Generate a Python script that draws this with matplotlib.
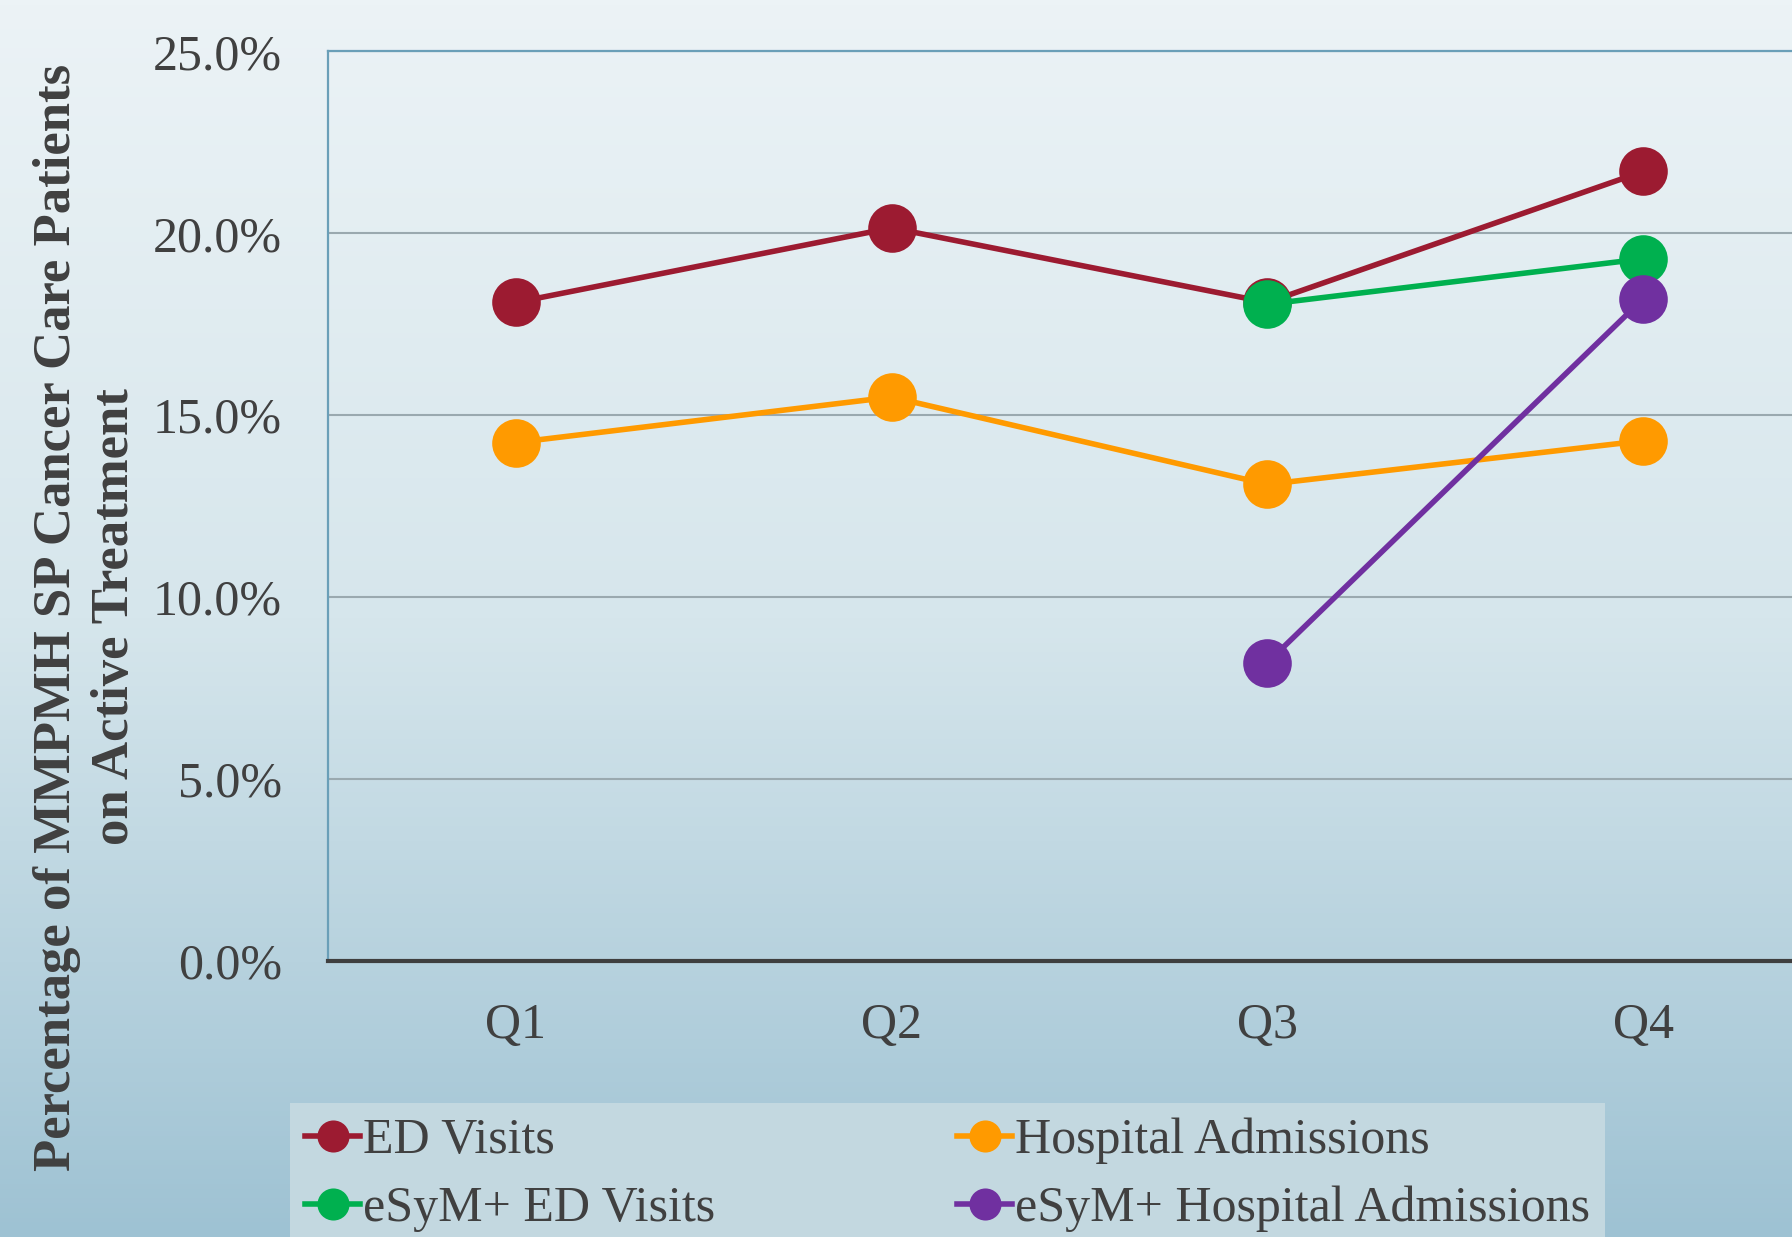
import matplotlib
matplotlib.use("Agg")
import matplotlib.pyplot as plt
import numpy as np
from matplotlib.colors import LinearSegmentedColormap

# ---- data ----
quarters = ["Q1", "Q2", "Q3", "Q4"]
ed_visits = [18.1, 20.15, 18.1, 21.7]
hosp_adm = [14.25, 15.5, 13.1, 14.3]
esym_ed = [np.nan, np.nan, 18.05, 19.3]
esym_hosp = [np.nan, np.nan, 8.2, 18.2]
yticks = [0, 5, 10, 15, 20, 25]
ylabel = "Percentage of MMPMH SP Cancer Care Patients\non Active Treatment"

series = [
    ("ED Visits", ed_visits, "#9C1B31"),
    ("Hospital Admissions", hosp_adm, "#FF9A00"),
    ("eSyM+ ED Visits", esym_ed, "#00B04F"),
    ("eSyM+ Hospital Admissions", esym_hosp, "#7030A0"),
]

FONT = "Liberation Serif"
TXT = "#404040"
W, H = 1792, 1237
fig = plt.figure(figsize=(W / 100, H / 100), dpi=100)

# background gradient
bg = fig.add_axes([0, 0, 1, 1], zorder=-10)
cmap = LinearSegmentedColormap.from_list("bg", ["#ECF3F6", "#D6E6EC", "#9EC2D3"])
grad = np.linspace(0, 1, 256).reshape(-1, 1)
bg.imshow(grad, aspect="auto", cmap=cmap, extent=[0, 1, 0, 1], origin="upper")
bg.set_axis_off()

ax = fig.add_axes([328 / W, 1 - 961 / H, (1831 - 328) / W, (961 - 51.4) / H])
ax.set_facecolor("none")
x = np.arange(len(quarters))
handles = {}
for name, vals, col in series:
    ln, = ax.plot(x, vals, color=col, lw=4.0, marker="o", markersize=35,
                  markeredgewidth=0, label=name, zorder=3, clip_on=False)
    handles[name] = ln

ax.set_xlim(-0.5, 3.5)
ax.set_ylim(0, 25)
ax.set_yticks(yticks)
ax.set_yticklabels([f"{v:.1f}%" for v in yticks])
ax.set_xticks(x)
ax.set_xticklabels(quarters)
ax.tick_params(axis="both", length=0, labelsize=36, labelcolor=TXT)
ax.tick_params(axis="y", pad=33)
ax.tick_params(axis="x", pad=30)
for lab in ax.get_xticklabels() + ax.get_yticklabels():
    lab.set_fontfamily(FONT)

ax.grid(axis="y", color="#9AA9AF", lw=1.5, zorder=1)
ax.set_axisbelow(True)
ax.spines["right"].set_visible(False)
ax.spines["top"].set_color("#6A9FB8")
ax.spines["top"].set_linewidth(1.6)
ax.spines["left"].set_color("#6A9FB8")
ax.spines["left"].set_linewidth(1.6)
ax.spines["bottom"].set_color("#3F3F3F")
ax.spines["bottom"].set_linewidth(3)

fig.text(86 / W, 1 - 617 / H, ylabel, rotation=90, ha="center", va="center",
         fontsize=38, fontweight="bold", family=FONT, color=TXT,
         multialignment="center", linespacing=1.28)

# legend filled row-wise like the reference (matplotlib fills column-wise)
order = ["ED Visits", "eSyM+ ED Visits", "Hospital Admissions", "eSyM+ Hospital Admissions"]
leg = fig.legend([handles[n] for n in order], order,
                 loc="upper left", bbox_to_anchor=(290 / W, 1 - 1103 / H),
                 bbox_transform=fig.transFigure, ncol=2, frameon=True,
                 fancybox=False, facecolor="#C3D8E0", edgecolor="none",
                 framealpha=1, markerscale=0.66, handlelength=1.1,
                 handletextpad=0.05, columnspacing=4.85, borderpad=0.3,
                 borderaxespad=0, labelspacing=0.42,
                 prop={"family": FONT, "size": 36})
for t in leg.get_texts():
    t.set_color(TXT)

fig.savefig("out.png", dpi=100)
